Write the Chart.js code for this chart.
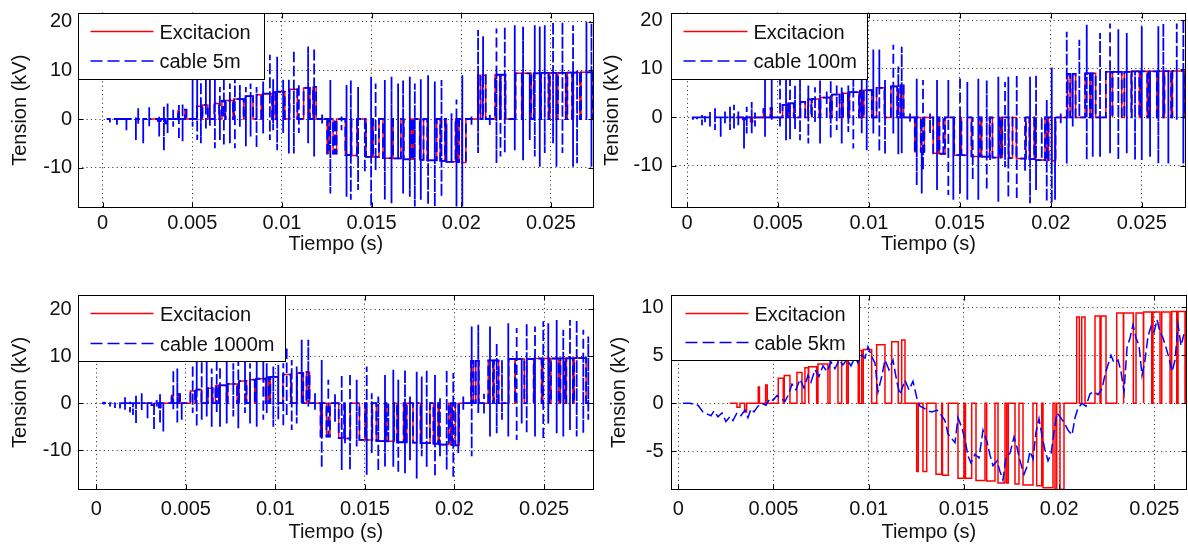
<!DOCTYPE html>
<html>
<head>
<meta charset="utf-8">
<script src="https://cdn.jsdelivr.net/npm/chart.js@4.4.0/dist/chart.umd.min.js"></script>
<style>
  html, body { margin: 0; padding: 0; background: #fff; }
  #fig { position: relative; width: 1188px; height: 550px; overflow: hidden; }
  .panel { position: absolute; }
</style>
</head>
<body>
<div id="fig">
  <canvas class="panel" id="c5m" width="600" height="275" style="left:0;top:0"></canvas>
  <canvas class="panel" id="c100m" width="588" height="275" style="left:600px;top:0"></canvas>
  <canvas class="panel" id="c1000m" width="600" height="275" style="left:0;top:275px"></canvas>
  <canvas class="panel" id="c5km" width="588" height="275" style="left:600px;top:275px"></canvas>
</div>
<script>
// ---------- data (time in ms, tension in kV) ----------
const timeTicks = [0, 0.005, 0.01, 0.015, 0.02, 0.025];
const kvTicks = [-10, 0, 10, 20];
const kvTicks5km = [-5, 0, 5, 10];

// Excitation: PWM pulses (start, end, level), zero in between
const excFirstMs = 2.7;
const excLastMs = 27.5;
const excStartMs = [3.083, 3.487, 4.202, 4.590, 5.252, 5.567, 6.234, 6.654, 6.864, 7.337, 7.967, 8.582,
  8.929, 9.506, 9.716, 10.420, 11.208, 11.733, 12.521, 12.852, 13.535, 13.876, 14.690, 15.084, 15.636,
  16.197, 16.791, 17.248, 17.684, 18.104, 18.824, 19.154, 19.785, 20.047, 20.924, 21.187, 21.885, 22.201,
  23.025, 23.398, 24.039, 24.449, 24.932, 25.389, 25.914, 26.245, 26.680];
const excEndMs = [3.241, 3.592, 4.265, 4.674, 5.515, 5.867, 6.497, 6.828, 7.269, 7.862, 8.388, 8.845,
  9.454, 9.632, 10.158, 10.856, 11.555, 11.907, 12.605, 13.046, 13.834, 14.181, 15.005, 15.410, 16.108,
  16.633, 17.159, 17.332, 17.894, 18.629, 19.086, 19.680, 19.874, 20.257, 21.061, 21.360, 22.148, 22.463,
  23.372, 23.897, 24.422, 24.863, 25.299, 25.825, 26.177, 26.612, 27.350];
const excLevelKv = [-0.4, -0.9, 1.7, 1.9, 2.6, 2.9, 3.2, 3.7, 3.8, 4.1, 4.7, 5.0,
  5.2, 5.5, 5.6, 6.1, 6.4, 6.6, -7.1, -7.1, -7.4, -7.5, -7.8, -7.8, -8.05,
  -8.1, -8.3, -8.3, -8.4, -8.5, -8.6, -8.8, -8.85, -8.95, 9.0, 9.0, 9.1, 9.1,
  9.4, 9.4, 9.4, 9.5, 9.5, 9.5, 9.55, 9.55, 9.6];

// cable 5m: ringing spikes (time, top, bottom); between spikes the trace sits on the excitation
const cable5mTimeMs = [0.22, 0.407, 0.797, 1.327, 1.856, 1.984, 2.263, 2.598, 3.155, 3.417, 3.623, 3.935, 4.253, 4.459,
  5.017, 5.273, 5.479, 5.758, 5.981, 6.260, 6.538, 6.761, 7.096, 7.375, 7.653, 7.988, 8.250, 8.584,
  8.952, 9.326, 9.509, 9.732, 10.067, 10.385, 10.663, 10.942, 11.460, 11.795, 12.241,
  12.698, 12.949, 13.322, 13.601, 13.840, 14.247, 14.621, 14.972, 15.223, 15.736, 16.109, 16.477,
  16.756, 17.129, 17.408, 17.742, 18.149, 18.523, 18.896, 19.175, 19.454, 19.732, 20.056, 20.569,
  20.936, 21.215, 21.589, 21.962, 22.185, 22.425, 22.982, 23.445, 23.818, 24.097, 24.376, 24.654,
  25.117, 25.307, 25.641, 26.232, 26.455, 26.979, 27.258];
const cable5mHigh = [0, 0, 0, 0, 0.3, 2.2, 0, 2.4, 0.5, 2.5, 3.2, 1.9, 2.9, 3.2,
  8.0, 11, 12, 10, 9, 11, 6.6, 10, 7.3, 10, 7.0, 6.6, 7.3, 6.6,
  7.7, 13.2, 8.2, 12.8, 8.2, 8.2, 14.2, 7.3, 14.9, 14.6, 1.2,
  8, 0, 0.5, 7, 8, 6.6, 0, 8.7, 7.3, 8.0, 8.7, 7.3,
  8, 8.7, 7.3, 8.2, 9, 7.7, 8, -0.9, 1.2, 4, 9, 0.5,
  18.3, 17, 1.2, 18.6, 8.5, 19, 19.3, 19, 9, 19.3, 19, 19.3,
  20, 9.6, 20, 19.3, 9.9, 20, 19.7];
const cable5mLow = [0, -0.7, -1.2, -2.3, -4.3, -1, -5.0, -1.5, -3.6, -6.5, -2.9, -1.6, -4.3, -4.6,
  -1.6, -4.3, -5.0, -2.3, -1.6, -6.0, -4.3, -5.6, -5.0, -6.0, -1.6, -5.6, -3.6, -6.0,
  -3.0, -4.3, -2.3, -6.4, -2.9, -7.1, -7.1, -2.9, -5.0, -7.7, -0.9,
  -15.3, -6.4, -2.3, -16, -16.6, -14.6, -11, -18, -10.5, -16.6, -17.3, -7.7,
  -15.3, -16, -18, -16.6, -17.6, -18, -16, -7.7, -3.6, -18, -18, -1.2,
  -7, 0.5, -1.6, -9.1, -7.7, -7, -6.4, -8.5, -4.3, -7.7, -9.8, -7,
  -5, -9.8, -7, -9.8, -9.1, -0.2, -9.8];

// cable 100m
const cable100mTimeMs = [0.26, 0.330, 0.550, 0.825, 0.990, 1.264, 1.539, 1.853, 2.089, 2.364, 2.584, 2.820, 3.134,
  3.282, 3.557, 3.738, 4.288, 4.656, 5.113, 5.443, 5.662, 5.937, 6.212, 6.669, 7.037, 7.312, 7.680,
  7.900, 8.230, 8.505, 8.868, 9.142, 9.604, 9.879, 10.242, 10.572, 10.885, 11.341, 11.616, 11.803,
  12.259, 12.628, 12.903, 12.974, 13.359, 13.744, 14.090, 14.365, 14.640, 15.008, 15.410, 15.706,
  16.014, 16.476, 16.658, 17.114, 17.482, 17.664, 18.125, 18.582, 18.857, 19.186, 19.500, 19.775,
  20.050, 20.231, 20.545, 20.874, 21.204, 21.567, 21.974, 22.304, 22.705, 23.255, 23.711, 24.173,
  24.629, 24.998, 25.454, 25.910, 26.185, 26.460, 26.922, 27.284];
const cable100mHigh = [0, 0, 0, 0.5, 0.3, 1.2, 1.9, 0.2, 1.2, 2.2, 2.6, 1.2, 0.3,
  2.2, 3.2, 1.0, 12, 10, 7.7, 11, 9, 6.6, 11, 6.6, 6.2, 7.7, 5.5,
  7.7, 6.6, 6.2, 6.6, 7.7, 8.4, 10.5, 14, 14, 7.7, 15, 10.5, 14.6,
  0.8, 8, -0.2, 7.7, 0.8, 7.7, 0.1, 7.7, 0.1, 8.4, 7.3, 0.1,
  8, 7.7, 0.1, 8.4, 7.3, 8.4, 8.8, 0.1, 8.4, 8.8, 0.1, 3.6,
  10.3, 0.1, 0.8, 17.7, 2.2, 16, 19.1, 7.7, 17.4, 19.4, 18.2, 17.4,
  8.8, 18.8, 8.4, 18.8, 19.4, 9.8, 19.4, 20.1];
const cable100mLow = [0, -0.5, -0.6, -1.6, -1.2, -1.9, -2.6, -4.0, -1.2, -2.6, -2.3, -1.6, -6.4,
  -3.3, -3.3, -1.9, -4.0, -0.5, -1.9, -4.7, -4.5, -2.6, -4.7, -5.4, -1.2, -5.4, -0.5,
  -4.3, -2.6, -5.4, -3.0, -6.4, -3.3, -6.8, -3.3, -7.1, -7.6, -3.3, -7.6, -7.4,
  -0.9, -14, -15.7, -10.9, -3.3, -15, -6.0, -16, -17, -15.7, -17, -13,
  -17, -15, -8.8, -17.4, -10.3, -16.6, -17, -11, -17.7, -15, -8.1, -17.4,
  -17.7, -17, -1.2, -9.5, -1.9, 0.1, -8.8, -8.1, -8.1, -7.4, -8.8, -7.4,
  -8.8, -8.8, -8.1, -9.5, 0.1, -9.5, -0.5, -9.5];

// cable 1000m
const cable1000mTimeMs = [0.30, 0.430, 0.765, 1.044, 1.323, 1.602, 1.882, 2.049, 2.217, 2.535, 2.859, 3.222, 3.372,
  3.557, 3.741, 4.299, 4.523, 4.768, 5.382, 5.606, 5.885, 6.164, 6.443, 6.723, 6.907, 7.281, 7.649,
  7.929, 8.303, 8.582, 8.956, 9.324, 9.514, 9.883, 10.162, 10.441, 10.631, 10.910, 11.189, 11.468,
  11.837, 12.211, 12.585, 12.954, 13.328, 13.702, 13.886, 14.165, 14.539, 15.098, 15.377, 15.745,
  16.120, 16.304, 16.583, 16.862, 17.236, 17.515, 17.890, 18.169, 18.448, 18.911, 19.190, 19.564,
  19.933, 20.212, 20.491, 20.960, 21.329, 21.647, 21.982, 22.356, 22.652, 23.004, 23.473, 23.752,
  24.031, 24.495, 24.958, 25.237, 25.706, 26.075, 26.449, 26.823, 27.192, 27.471];
const cable1000mHigh = [0, 0.3, 0.2, 0.1, 0.2, 1.4, 0.3, 0.2, 1.8, 2.1, 0.2, 0.2, 0.7,
  2.1, 0, 7.1, 7.4, 0, 8.2, 12, 9, 12, 7.4, 11, 7.8, 11, 8.5,
  12, 9.2, 8.5, 11, 8.9, 8.5, 7.8, 8.2, 8.5, 12, 9.2, 7.8, 13.5,
  13.5, 2.1, 9.2, 5.0, 2.0, 6.0, 0, 6.4, 5.0, 7.8, 2.1, 1.4,
  6.0, 0, 7.1, 5.0, 7.1, 1.4, 6.7, 5.7, 7.1, 6.0, 1.4, 7.1,
  6.4, 0, 1.4, 16.3, 16.7, 2.0, 16.3, 12.8, 9.2, 17, 16, 9.2,
  17, 16.3, 17.4, 17, 17.7, 15.6, 17.7, 17.7, 15.6, 14.2];
const cable1000mLow = [0, -0.3, -0.7, -1.0, -1.1, -1.4, -2.0, -2.5, -4.3, -1.8, -3.2, -5.7, -1.1,
  -4.3, -6.0, -1.4, -4.3, -3.5, -2.1, -5.0, -3.5, -2.8, -5.0, -2.1, -5.0, -4.3, -2.8,
  -5.3, -2.1, -4.3, -5.0, -3.5, -2.1, -5.0, -3.5, -5.0, -2.8, -5.7, -4.3, 0,
  -0.7, -1.4, -13.8, -5.0, -4.0, -14.2, -8.5, -14.2, -9.2, -15.2, -10.6, -14.5,
  -13.5, -7.8, -13.5, -14.9, -14.9, -12.1, -16, -11.3, -13.5, -15.6, -11.3, -14.2,
  -16, -10.6, -1.4, -11.3, -2.1, -2.5, -7.1, -6.4, -3.5, -7.1, -7.8, -4.3,
  -6.4, -7.1, -7.8, -4.3, -6.4, -7.1, -5.7, -7.1, -6.4, -3.5];

// cable 5km: filtered wave
const cable5kmTimeMs = [0.247, 0.614, 1.035, 1.297, 1.507, 1.717, 1.875, 2.085, 2.295, 2.505, 2.715, 2.873,
  3.083, 3.293, 3.503, 3.661, 3.818, 3.976, 4.186, 4.396, 4.606, 4.816, 4.974, 5.184, 5.394, 5.604,
  5.814, 5.972, 6.182, 6.392, 6.602, 6.812, 6.970, 7.180, 7.390, 7.600, 7.810, 8.020, 8.230, 8.440,
  8.650, 8.860, 9.070, 9.280, 9.438, 9.648, 9.805, 9.963, 10.173, 10.331, 10.488, 10.699, 10.856,
  11.066, 11.276, 11.486, 11.644, 11.906, 12.117, 12.327, 12.537, 12.694, 12.904, 13.115, 13.325,
  13.587, 13.797, 14.007, 14.165, 14.322, 14.533, 14.690, 14.900, 15.058, 15.216, 15.373, 15.583,
  15.793, 16.003, 16.213, 16.371, 16.529, 16.739, 16.896, 17.054, 17.211, 17.421, 17.632, 17.789,
  17.947, 18.157, 18.314, 18.472, 18.630, 18.787, 18.945, 19.102, 19.260, 19.418, 19.575, 19.733,
  19.890, 20.048, 20.258, 20.468, 20.678, 20.835, 20.993, 21.203, 21.413, 21.623, 21.833, 22.043,
  22.253, 22.411, 22.568, 22.726, 22.884, 23.094, 23.251, 23.409, 23.566, 23.724, 23.882, 24.039,
  24.197, 24.354, 24.512, 24.669, 24.827, 24.984, 25.142, 25.300, 25.457, 25.615, 25.772, 25.930,
  26.087, 26.245, 26.403, 26.560];
const cable5kmKv = [0, 0, -0.2, -0.9, -1.1, -1.3, -0.8, -1.4, -1.0, -1.9, -1.4, -1.8,
  -1.0, -1.3, -0.7, -1.5, -0.6, -0.9, -0.3, 0.0, -0.2, 0.5, 0.3, 0.8, 0.5, 0.2,
  1.0, 2.0, 1.4, 2.5, 1.6, 2.9, 2.2, 3.5, 2.8, 3.9, 3.3, 4.3, 3.6, 4.5,
  4.0, 4.6, 3.9, 4.8, 4.2, 5.0, 4.7, 5.9, 4.8, 4.2, 1.2, 2.9, 4.5,
  3.5, 4.5, 2.2, 0.9, 2.4, 1.4, 2.3, 0.5, -0.3, -0.5, -0.8, -0.9,
  -0.7, -1.2, -1.8, -3.2, -3.6, -4.1, -1.5, -2.6, -3.8, -5.5, -6.2, -5.3,
  -5.7, -2.8, -4.0, -5.4, -6.5, -6.0, -7.1, -8.0, -5.6, -5.2, -3.5, -4.6,
  -6.0, -7.4, -6.6, -5.0, -5.8, -3.0, -1.6, -3.4, -4.9, -6.0, -5.3, -3.0,
  -1.0, -1.4, -2.0, -2.8, -3.3, -1.5, -0.5, 0.0, -0.3, 1.0, 1.2, 0.9,
  1.5, 3.0, 4.0, 5.0, 4.2, 4.5, 3.3, 1.2, 5.8, 6.8, 8.2, 6.8,
  6.0, 2.9, 4.5, 7.0, 8.0, 7.4, 8.7, 7.4, 6.8, 5.8, 4.7, 3.3,
  4.5, 8.2, 6.0, 7.2];

// ---------- building the traces ----------
function excitationPoints() {
  const pts = [{x: excFirstMs / 1000, y: 0}];
  excStartMs.forEach((s, i) => {
    const a = s / 1000, b = excEndMs[i] / 1000, v = excLevelKv[i];
    pts.push({x: a, y: 0}, {x: a, y: v}, {x: b, y: v}, {x: b, y: 0});
  });
  pts.push({x: excLastMs / 1000, y: 0});
  return pts;
}

// cable trace: rides on the excitation, with a spike (top/bottom) at each read time
function cablePoints(times, highs, lows) {
  const base = excitationPoints();
  const pts = [];
  let j = 0;
  times.forEach((t, i) => {
    const x = t / 1000;
    while (j < base.length && base[j].x <= x) pts.push(base[j++]);
    const level = pts.length ? pts[pts.length - 1].y : 0;
    pts.push({x: x, y: level}, {x: x, y: highs[i]}, {x: x, y: lows[i]}, {x: x, y: level});
  });
  while (j < base.length) pts.push(base[j++]);
  return pts;
}

function wavePoints(times, values) {
  return times.map((t, i) => ({x: t / 1000, y: values[i]}));
}

// ---------- look ----------
const FONT = "'Liberation Sans', Arial, Helvetica, sans-serif";
Chart.defaults.font.family = FONT;
Chart.defaults.font.size = 20;
Chart.defaults.color = '#111';

// MATLAB style box, inward ticks and boxed legend
const matlabAxes = {
  id: 'matlabAxes',
  afterDatasetsDraw(chart, args, opts) {
    const {ctx, chartArea: a, scales: {x, y}} = chart;
    const l = Math.round(a.left) + 0.5, t = Math.round(a.top) + 0.5;
    const r = Math.round(a.right) - 0.5, b = Math.round(a.bottom) - 0.5;
    ctx.save();
    ctx.strokeStyle = '#000';
    ctx.lineWidth = 1;
    ctx.beginPath();
    x.ticks.forEach(tk => {
      const px = Math.round(x.getPixelForValue(tk.value)) + 0.5;
      ctx.moveTo(px, b); ctx.lineTo(px, b - 5);
      ctx.moveTo(px, t); ctx.lineTo(px, t + 5);
    });
    y.ticks.forEach(tk => {
      const py = Math.round(y.getPixelForValue(tk.value)) + 0.5;
      ctx.moveTo(l, py); ctx.lineTo(l + 5, py);
      ctx.moveTo(r, py); ctx.lineTo(r - 5, py);
    });
    ctx.stroke();

    // legend
    const g = opts.legend;
    ctx.fillStyle = '#fff';
    ctx.fillRect(l, t, g.w, g.h);
    ctx.strokeRect(l, t, g.w, g.h);
    ctx.lineWidth = 1.6;
    ctx.strokeStyle = '#ff0000';
    ctx.beginPath();
    ctx.moveTo(l + g.x0, t + g.row1 - 1.5); ctx.lineTo(l + g.x1, t + g.row1 - 1.5);
    ctx.stroke();
    ctx.strokeStyle = '#0000ff';
    ctx.setLineDash([12, 5]);
    ctx.beginPath();
    ctx.moveTo(l + g.x0, t + g.row2 - 1.5); ctx.lineTo(l + g.x1, t + g.row2 - 1.5);
    ctx.stroke();
    ctx.setLineDash([]);
    ctx.fillStyle = '#111';
    ctx.font = '20px ' + FONT;
    ctx.textBaseline = 'middle';
    ctx.textAlign = 'left';
    ctx.fillText('Excitacion', l + g.tx, t + g.row1);
    ctx.fillText(g.label, l + g.tx, t + g.row2);

    // axes box
    ctx.lineWidth = 1;
    ctx.strokeStyle = '#000';
    ctx.strokeRect(l, t, r - l, b - t);
    ctx.restore();
  }
};

function makePanel(id, p) {
  const canvas = document.getElementById(id);
  return new Chart(canvas.getContext('2d'), {
    type: 'line',
    data: {
      datasets: [
        {
          label: 'Excitacion',
          data: excitationPoints(),
          borderColor: '#ff0000',
          borderWidth: 1.5,
          pointRadius: 0,
          order: 1
        },
        {
          label: p.label,
          data: p.cable,
          borderColor: '#0000ff',
          borderWidth: p.cableWidth,
          borderDash: [10, 4],
          pointRadius: 0,
          order: 0
        }
      ]
    },
    options: {
      responsive: false,
      animation: false,
      devicePixelRatio: 1,
      events: [],
      layout: { padding: { top: p.padTop, right: p.padRight, left: 0, bottom: 0 } },
      plugins: {
        legend: { display: false },
        tooltip: { enabled: false },
        matlabAxes: { legend: p.legend }
      },
      scales: {
        x: {
          type: 'linear',
          min: p.xMin,
          max: p.xMax,
          afterBuildTicks: s => { s.ticks = timeTicks.map(v => ({value: v})); },
          afterFit: s => { s.height = p.xAxisH; s.paddingLeft = 0; s.paddingRight = 0; },
          ticks: { autoSkip: false, maxRotation: 0, padding: p.xTickPad, callback: v => String(v) },
          grid: { color: '#222', lineWidth: 1, drawTicks: false },
          border: { display: false, dash: [1, 3.3] },
          title: { display: true, text: 'Tiempo (s)', padding: { top: 0, bottom: p.xTitlePad } }
        },
        y: {
          type: 'linear',
          min: p.yMin,
          max: p.yMax,
          afterBuildTicks: s => { s.ticks = p.yTicks.map(v => ({value: v})); },
          afterFit: s => { s.width = p.yAxisW; s.paddingTop = 0; s.paddingBottom = 0; },
          ticks: { autoSkip: false, padding: p.yTickPad, callback: v => String(v) },
          grid: { color: '#222', lineWidth: 1, drawTicks: false },
          border: { display: false, dash: [1, 3.3] },
          title: { display: true, text: 'Tension (kV)', padding: { top: p.yTitlePad, bottom: 0 } }
        }
      }
    },
    plugins: [matlabAxes]
  });
}

makePanel('c5m', {
  label: 'cable 5m',
  cable: cablePoints(cable5mTimeMs, cable5mHigh, cable5mLow),
  cableWidth: 1.8,
  xMin: -0.00139, xMax: 0.0274, yMin: -18.3, yMax: 21.9, yTicks: kvTicks,
  padTop: 12.5, padRight: 6, yAxisW: 77.7, xAxisH: 67,
  xTickPad: 3, yTickPad: 5.5, xTitlePad: 18.5, yTitlePad: 8.5,
  legend: { label: 'cable 5m', w: 186, h: 66, row1: 19.5, row2: 49, x0: 12, x1: 75, tx: 81 }
});

makePanel('c100m', {
  label: 'cable 100m',
  cable: cablePoints(cable100mTimeMs, cable100mHigh, cable100mLow),
  cableWidth: 1.8,
  xMin: -0.00088, xMax: 0.02743, yMin: -18.7, yMax: 21.65, yTicks: kvTicks,
  padTop: 12.5, padRight: 2, yAxisW: 71, xAxisH: 67,
  xTickPad: 3, yTickPad: 8.5, xTitlePad: 18.5, yTitlePad: 0,
  legend: { label: 'cable 100m', w: 196, h: 66, row1: 19.5, row2: 49, x0: 12, x1: 76, tx: 82 }
});

makePanel('c1000m', {
  label: 'cable 1000m',
  cable: cablePoints(cable1000mTimeMs, cable1000mHigh, cable1000mLow),
  cableWidth: 1.8,
  xMin: -0.00104, xMax: 0.02779, yMin: -18.45, yMax: 23.0, yTicks: kvTicks,
  padTop: 20, padRight: 6, yAxisW: 77.7, xAxisH: 60,
  xTickPad: 7, yTickPad: 6, xTitlePad: 5.5, yTitlePad: 8.5,
  legend: { label: 'cable 1000m', w: 207, h: 66, row1: 19.5, row2: 49.5, x0: 12, x1: 75, tx: 81.5 }
});

makePanel('c5km', {
  label: 'cable 5km',
  cable: wavePoints(cable5kmTimeMs, cable5kmKv),
  cableWidth: 1.5,
  xMin: -0.00038, xMax: 0.0267, yMin: -9.03, yMax: 11.28, yTicks: kvTicks5km,
  padTop: 20, padRight: 1.3, yAxisW: 71, xAxisH: 60,
  xTickPad: 7, yTickPad: 7.5, xTitlePad: 5.5, yTitlePad: 7,
  legend: { label: 'cable 5km', w: 188, h: 65, row1: 19.5, row2: 48.5, x0: 14, x1: 77, tx: 83 }
});
</script>
</body>
</html>
